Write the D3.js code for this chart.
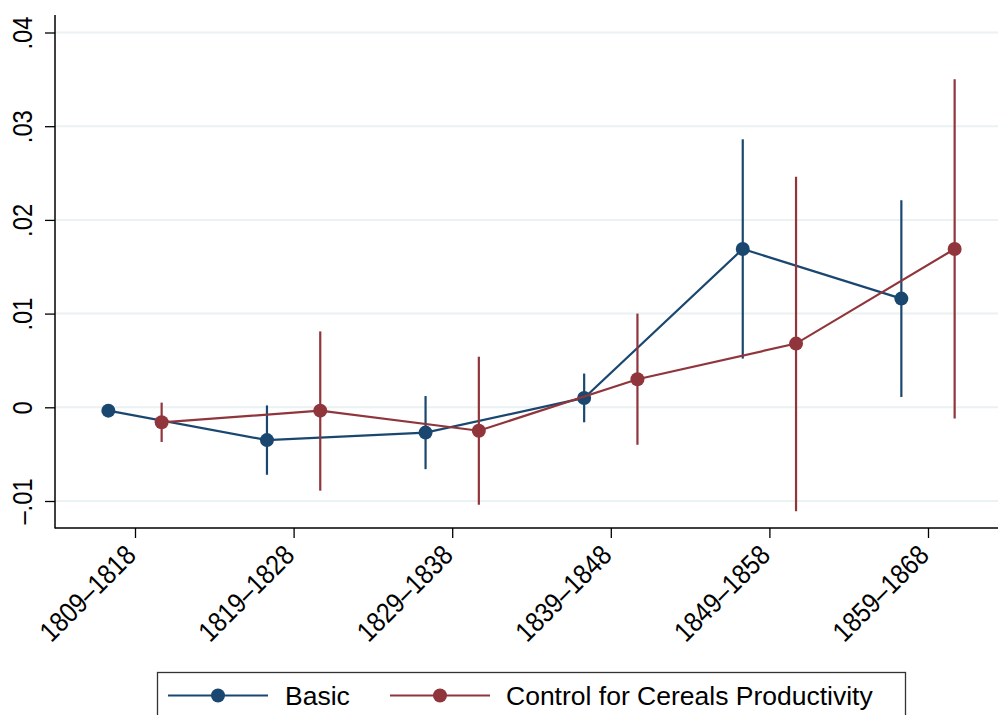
<!DOCTYPE html>
<html>
<head>
<meta charset="utf-8">
<script src="https://cdn.jsdelivr.net/npm/d3@7"></script>
<style>
  body { margin: 0; background: #fff; }
  svg { display: block; font-family: "Liberation Sans", Arial, Helvetica, sans-serif; }
</style>
</head>
<body>
<div id="chart"></div>
<script>
// Data
const periods = ["1809\u20131818", "1819\u20131828", "1829\u20131838", "1839\u20131848", "1849\u20131858", "1859\u20131868"];
const yTicks = [-0.01, 0, 0.01, 0.02, 0.03, 0.04];
const yTickLabels = ["\u2013.01", "0", ".01", ".02", ".03", ".04"];

const basicEst = [-0.00036, -0.0035, -0.0027, 0.0010, 0.0169, 0.0116];
const basicLo  = [null, -0.0072, -0.0066, -0.0016, 0.0052, 0.0011];
const basicHi  = [null, 0.0002, 0.0012, 0.0036, 0.0286, 0.0221];

const ctrlEst = [-0.0016, -0.00036, -0.0025, 0.0030, 0.0068, 0.0169];
const ctrlLo  = [-0.0037, -0.0089, -0.0104, -0.0040, -0.0111, -0.0012];
const ctrlHi  = [0.0005, 0.0081, 0.0054, 0.0100, 0.0246, 0.0350];

const seriesNames = ["Basic", "Control for Cereals Productivity"];
const colors = ["#1a476f", "#90353b"];

// Layout
const W = 998, H = 715;
const axisLeft = 55, axisBottom = 528, axisTop = 15;

const svg = d3.select("#chart")
  .append("svg")
  .attr("width", W)
  .attr("height", H);

svg.append("rect").attr("width", W).attr("height", H).attr("fill", "#fff");

// Scales
const x = d3.scaleLinear()
  .domain([0, periods.length - 1])
  .range([135, 928]);

const y = d3.scaleLinear()
  .domain([0, 0.04])
  .range([407.3, 32.5]);

const offset = 0.168;  // horizontal dodge, in category units

// Gridlines
svg.append("g")
  .selectAll("line")
  .data(yTicks)
  .join("line")
  .attr("x1", axisLeft)
  .attr("x2", W)
  .attr("y1", d => y(d))
  .attr("y2", d => y(d))
  .attr("stroke", "#eaf2f3")
  .attr("stroke-width", 2);

// Y axis
const yAxis = d3.axisLeft(y)
  .tickValues(yTicks)
  .tickSize(10)
  .tickFormat((d, i) => yTickLabels[i]);

const gy = svg.append("g")
  .attr("transform", `translate(${axisLeft},0)`)
  .call(yAxis);

gy.select(".domain").remove();
gy.selectAll(".tick line").attr("stroke", "#000").attr("stroke-width", 1.3);
gy.selectAll(".tick text")
  .attr("x", 0)
  .attr("y", 0)
  .attr("dy", 0)
  .attr("fill", "#000")
  .style("font-size", "27px")
  .attr("text-anchor", "middle")
  .attr("transform", "translate(-23,0) rotate(-90) scale(0.88,1)");

svg.append("line")
  .attr("x1", axisLeft).attr("x2", axisLeft)
  .attr("y1", axisTop).attr("y2", axisBottom + 0.5)
  .attr("stroke", "#000").attr("stroke-width", 1.5);

// X axis
const gx = svg.append("g")
  .attr("transform", `translate(0,${axisBottom})`)
  .call(d3.axisBottom(x)
    .tickValues(d3.range(periods.length))
    .tickSize(10)
    .tickFormat(i => periods[i]));

gx.select(".domain").remove();
gx.selectAll(".tick line").attr("stroke", "#000").attr("stroke-width", 1.3);
gx.selectAll(".tick text")
  .attr("x", 0)
  .attr("y", 0)
  .attr("dy", 0)
  .attr("fill", "#000")
  .style("font-size", "28px")
  .attr("text-anchor", "end")
  .attr("transform", "translate(2,29) rotate(-45) scale(0.87,1)");

svg.append("line")
  .attr("x1", axisLeft).attr("x2", W)
  .attr("y1", axisBottom).attr("y2", axisBottom)
  .attr("stroke", "#000").attr("stroke-width", 1.5);

// Series
const series = [
  { est: basicEst, lo: basicLo, hi: basicHi, dx: -offset, color: colors[0] },
  { est: ctrlEst,  lo: ctrlLo,  hi: ctrlHi,  dx:  offset, color: colors[1] }
];

const line = d3.line()
  .x(d => x(d.i + d.dx))
  .y(d => y(d.v));

series.forEach(s => {
  const pts = s.est.map((v, i) => ({ i: i, v: v, lo: s.lo[i], hi: s.hi[i], dx: s.dx }));
  const g = svg.append("g");

  // confidence intervals
  g.selectAll("line.ci")
    .data(pts.filter(d => d.lo !== null))
    .join("line")
    .attr("class", "ci")
    .attr("x1", d => x(d.i + d.dx))
    .attr("x2", d => x(d.i + d.dx))
    .attr("y1", d => y(d.lo))
    .attr("y2", d => y(d.hi))
    .attr("stroke", s.color)
    .attr("stroke-width", 2.2);

  g.append("path")
    .datum(pts)
    .attr("d", line)
    .attr("fill", "none")
    .attr("stroke", s.color)
    .attr("stroke-width", 2.2);

  g.selectAll("circle")
    .data(pts)
    .join("circle")
    .attr("cx", d => x(d.i + d.dx))
    .attr("cy", d => y(d.v))
    .attr("r", 7)
    .attr("fill", s.color);
});

// Legend
const legend = svg.append("g");
legend.append("rect")
  .attr("x", 157.5)
  .attr("y", 672.5)
  .attr("width", 748)
  .attr("height", 60)
  .attr("fill", "#fff")
  .attr("stroke", "#333")
  .attr("stroke-width", 1.3);

const legendItems = [
  { x1: 168, x2: 268, tx: 285 },
  { x1: 390, x2: 490, tx: 506 }
];

legendItems.forEach((d, i) => {
  legend.append("line")
    .attr("x1", d.x1).attr("x2", d.x2)
    .attr("y1", 695.5).attr("y2", 695.5)
    .attr("stroke", colors[i]).attr("stroke-width", 2.2);
  legend.append("circle")
    .attr("cx", (d.x1 + d.x2) / 2)
    .attr("cy", 695.5)
    .attr("r", 7)
    .attr("fill", colors[i]);
  legend.append("text")
    .attr("x", d.tx)
    .attr("y", 705)
    .style("font-size", "26.5px")
    .attr("fill", "#000")
    .text(seriesNames[i]);
});
</script>
</body>
</html>
